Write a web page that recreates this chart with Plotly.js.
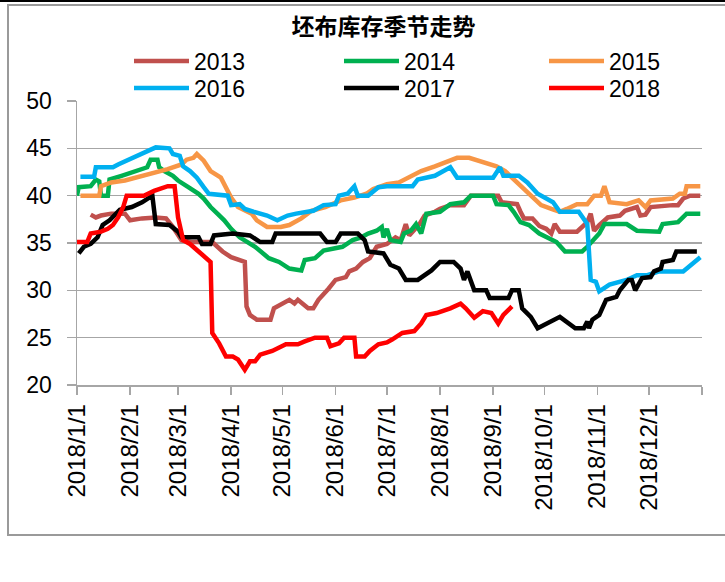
<!DOCTYPE html>
<html>
<head>
<meta charset="utf-8">
<script src="https://cdn.plot.ly/plotly-3.0.1.min.js"></script>
<style>
  body { margin: 0; background: #fff; }
  #topbar { position: absolute; left: 0; top: 0; width: 725px; height: 2px; background: #000; }
  #frame { position: absolute; left: 7px; top: 4px; width: 730px; height: 528px; border: 2px solid #9a9a9a; }
  #chart { position: absolute; left: 0; top: 0; width: 725px; height: 582px; }
</style>
</head>
<body>
<div id="topbar"></div>
<div id="frame"></div>
<div id="chart"></div>
<script>
// month-day of each reading, plotted on a 2018 calendar
const days2013 = ['01-09','01-12','01-15','01-21','01-29','02-01','02-08','02-16','02-22','02-26','03-03','03-09','03-21','03-27','04-01','04-09','04-10','04-12','04-16','04-24','04-26','04-30','05-05','05-08','05-10','05-16','05-19','05-22','05-26','05-28','06-01','06-07','06-09','06-13','06-17','06-21','06-25','07-01','07-06','07-09','07-12','07-14','07-20','07-23','07-29','08-01','08-07','08-15','08-19','09-04','09-06','09-12','09-15','09-17','09-19','09-24','09-28','10-02','10-05','10-07','10-10','10-20','10-23','10-26','10-28','10-30','11-02','11-07','11-14','11-17','11-24','11-26','11-29','12-02','12-15','12-18','12-21','12-25','12-31'];
const vals2013 = [38.0,37.7,37.9,38.1,38.1,37.4,37.6,37.7,37.6,36.7,35.3,35.1,35.1,34.1,33.5,33.0,28.3,27.4,26.9,26.9,28.1,28.5,29.0,28.6,29.0,28.1,28.1,29.0,29.7,30.2,31.1,31.4,32.0,32.3,33.0,33.4,34.6,34.9,35.6,35.3,37.0,35.8,37.0,37.9,38.3,38.6,39.0,39.0,40.0,40.0,39.3,39.1,39.1,38.3,37.6,37.6,36.8,36.5,36.0,37.0,36.2,36.2,36.7,37.2,38.1,36.3,36.9,37.7,37.9,38.4,38.8,37.9,38.0,38.8,39.0,39.0,39.7,40.0,40.0];

const days2014 = ['01-01','01-02','01-09','01-12','01-14','01-15','01-19','01-20','01-27','02-04','02-11','02-13','02-17','02-18','02-21','02-26','03-01','03-07','03-13','03-16','03-20','03-24','03-28','04-01','04-06','04-15','04-23','04-29','05-05','05-12','05-14','05-20','05-25','06-05','06-11','06-16','06-20','06-25','06-28','06-29','07-01','07-03','07-09','07-11','07-15','07-18','07-21','07-24','08-01','08-07','08-15','08-19','09-01','09-03','09-10','09-13','09-17','09-22','09-28','10-08','10-13','10-23','10-26','11-02','11-05','11-18','11-24','12-07','12-09','12-18','12-23','12-31'];
const vals2014 = [40.0,40.9,41.0,41.7,41.5,40.0,40.0,41.7,42.1,42.6,43.0,43.8,43.8,43.0,42.6,42.1,41.6,40.9,40.2,39.7,38.8,38.1,37.4,36.5,35.6,34.6,33.4,33.0,32.3,32.1,33.2,33.4,34.2,34.6,35.3,35.6,36.0,36.3,36.7,35.6,36.5,35.3,35.1,36.0,36.3,37.0,36.0,38.1,38.3,39.1,39.3,40.0,40.0,39.1,39.0,38.3,37.2,36.9,36.0,35.1,34.1,34.1,34.6,36.0,37.0,37.0,36.3,36.2,37.0,37.2,38.1,38.1];

const days2015 = ['01-03','01-14','01-15','01-21','01-29','02-04','02-14','02-23','03-03','03-06','03-10','03-12','03-16','03-20','03-26','03-30','04-01','04-05','04-13','04-16','04-22','04-30','05-05','05-12','05-18','05-26','06-04','06-12','06-19','06-23','07-01','07-08','07-14','07-21','07-29','08-07','08-11','08-18','08-26','09-03','09-08','09-14','09-20','09-29','10-05','10-10','10-14','10-20','10-26','10-30','11-03','11-05','11-08','11-18','11-25','11-29','12-02','12-15','12-19','12-22','12-23','12-31'];
const vals2015 = [40.0,40.0,41.0,41.4,41.6,41.9,42.3,42.8,43.3,43.8,44.0,44.4,43.7,42.6,41.9,40.5,39.8,38.8,38.1,37.4,36.7,36.7,36.9,37.6,38.4,38.8,39.5,39.8,40.2,40.7,41.2,41.4,41.9,42.6,43.1,43.7,44.0,44.0,43.5,43.1,42.6,41.6,40.5,39.0,38.6,38.3,38.6,39.1,39.1,40.0,40.0,41.0,39.3,39.1,39.5,38.8,39.5,39.7,40.2,40.2,41.0,41.0];

const days2016 = ['01-03','01-11','01-12','01-22','01-25','01-31','02-08','02-16','02-24','02-26','03-02','03-04','03-08','03-12','03-16','03-19','03-30','04-01','04-06','04-09','04-14','04-22','04-28','05-04','05-09','05-19','05-25','06-01','06-03','06-08','06-12','06-14','06-20','06-26','07-01','07-16','07-19','07-29','08-07','08-11','09-01','09-05','09-07','09-16','09-21','09-27','10-06','10-10','10-21','10-26','10-28','10-31','11-02','11-08','11-18','11-24','11-30','12-07','12-21','12-31'];
const vals2016 = [42.0,42.0,43.0,43.0,43.3,43.8,44.5,45.1,45.0,44.4,44.2,43.1,42.6,41.9,40.9,40.2,40.0,39.0,39.1,38.6,38.3,37.9,37.4,37.9,38.1,38.4,39.0,39.1,40.0,40.2,41.0,40.0,40.0,40.9,41.0,41.0,41.7,42.1,43.0,41.9,41.9,43.0,42.1,42.1,41.4,40.2,39.3,38.3,38.3,37.0,31.1,30.9,29.9,30.6,31.1,31.6,31.6,32.0,32.0,33.5];

const days2017 = ['01-02','01-05','01-09','01-13','01-16','01-20','01-26','02-02','02-08','02-14','02-16','02-24','03-01','03-03','03-13','03-15','03-20','03-22','04-02','04-12','04-18','04-25','04-27','05-23','05-27','06-01','06-04','06-14','06-18','06-20','06-29','07-03','07-08','07-12','07-19','07-27','08-01','08-09','08-13','08-15','08-17','08-21','08-28','08-30','09-10','09-12','09-16','09-18','09-23','09-27','10-10','10-14','10-19','10-24','10-26','10-27','10-29','11-02','11-06','11-12','11-14','11-19','11-21','11-23','11-27','12-02','12-04','12-08','12-09','12-15','12-17','12-29'];
const vals2017 = [33.9,34.6,34.9,35.6,36.9,37.4,38.5,38.8,39.3,40.0,37.0,36.9,36.2,35.6,35.6,34.9,34.9,35.8,36.0,35.8,35.1,35.1,36.0,36.0,35.1,35.1,36.0,36.0,35.3,34.1,33.9,32.7,32.3,31.1,31.1,32.1,33.0,33.0,32.3,31.1,32.0,30.0,30.0,29.2,29.2,30.0,30.0,28.1,27.2,26.0,27.2,26.7,26.0,26.0,26.7,26.0,26.9,27.4,29.0,29.3,30.0,31.1,31.1,30.0,31.3,31.4,32.0,32.3,33.0,33.2,34.1,34.1];

const days2018 = ['01-01','01-07','01-09','01-15','01-19','01-22','01-25','01-28','01-30','02-09','02-15','02-23','02-27','03-01','03-04','03-08','03-13','03-17','03-20','03-21','03-25','03-29','04-02','04-05','04-09','04-12','04-15','04-18','04-25','05-03','05-10','05-14','05-20','05-27','05-29','06-03','06-06','06-12','06-13','06-18','06-21','06-26','07-01','07-04','07-10','07-17','07-21','07-24','07-30','08-07','08-13','08-16','08-21','08-26','08-31','09-04','09-07','09-12'];
const vals2018 = [35.1,35.1,36.0,36.2,36.5,36.9,37.7,38.8,40.0,40.0,40.5,41.0,41.0,37.7,35.3,34.9,34.1,33.5,33.0,25.5,24.4,23.0,23.0,22.7,21.6,22.5,22.5,23.2,23.6,24.3,24.3,24.6,25.0,25.0,24.1,24.4,25.0,25.0,23.0,23.0,23.6,24.3,24.5,24.8,25.5,25.7,26.5,27.4,27.6,28.1,28.6,28.1,27.1,27.8,27.6,26.5,27.4,28.3];

const seriesNames = ['2013', '2014', '2015', '2016', '2017', '2018'];
const seriesDays = [days2013, days2014, days2015, days2016, days2017, days2018];
const seriesVals = [vals2013, vals2014, vals2015, vals2016, vals2017, vals2018];
const seriesColors = ['#C0504D', '#00B050', '#F79646', '#00B0F0', '#000000', '#FF0000'];

const monthTicks = ['2018-01-01','2018-02-01','2018-03-01','2018-04-01','2018-05-01','2018-06-01','2018-07-01','2018-08-01','2018-09-01','2018-10-01','2018-11-01','2018-12-01','2019-01-01'];
const monthLabels = ['2018/1/1','2018/2/1','2018/3/1','2018/4/1','2018/5/1','2018/6/1','2018/7/1','2018/8/1','2018/9/1','2018/10/1','2018/11/1','2018/12/1',''];

const gridGrey = '#A6A6A6';
const labelFont = {family: 'Liberation Sans, Arial, sans-serif', size: 23, color: '#000'};

// legend laid out as 3 columns x 2 rows, one small legend per entry
const legendCols = [0.0832, 0.4192, 0.7472];
const legendRows = [1.1408, 1.0458];

var traces = seriesNames.map(function(name, i) {
  return {
    x: seriesDays[i].map(d => '2018-' + d),
    y: seriesVals[i],
    name: name,
    type: 'scatter',
    mode: 'lines',
    legend: i === 0 ? 'legend' : 'legend' + (i + 1),
    line: {color: seriesColors[i], width: 4.5}
  };
});

var layout = {
  width: 725,
  height: 582,
  paper_bgcolor: 'rgba(0,0,0,0)',
  plot_bgcolor: 'rgba(0,0,0,0)',
  margin: {l: 77, r: 23, t: 101, b: 197},
  showlegend: true,
  title: {
    text: '<b>坯布库存季节走势</b>',
    font: {family: 'Noto Sans CJK SC, sans-serif', size: 23, color: '#000'},
    x: 0.529, xanchor: 'center',
    y: 0.954, yanchor: 'middle'
  },
  xaxis: {
    type: 'date',
    range: ['2018-01-01', '2019-01-01'],
    tickmode: 'array',
    tickvals: monthTicks,
    ticktext: monthLabels,
    tickangle: -90,
    ticks: 'outside',
    ticklen: 8,
    tickwidth: 1.5,
    tickcolor: gridGrey,
    showline: true,
    linecolor: gridGrey,
    linewidth: 1.5,
    showgrid: false,
    zeroline: false,
    tickfont: Object.assign({}, labelFont, {size: 24})
  },
  yaxis: {
    range: [20, 50],
    dtick: 5,
    ticks: 'outside',
    ticklen: 9,
    tickwidth: 1.5,
    tickcolor: gridGrey,
    ticklabelstandoff: 10,
    showline: true,
    linecolor: gridGrey,
    linewidth: 1.5,
    showgrid: true,
    gridcolor: gridGrey,
    gridwidth: 1.5,
    zeroline: false,
    tickfont: labelFont
  }
};

seriesNames.forEach(function(name, i) {
  var key = i === 0 ? 'legend' : 'legend' + (i + 1);
  layout[key] = {
    x: legendCols[i % 3], xanchor: 'left',
    y: legendRows[Math.floor(i / 3)], yanchor: 'middle',
    itemwidth: 55,
    font: labelFont,
    bgcolor: 'rgba(0,0,0,0)'
  };
});

Plotly.newPlot('chart', traces, layout, {displayModeBar: false, staticPlot: true});
</script>
</body>
</html>
